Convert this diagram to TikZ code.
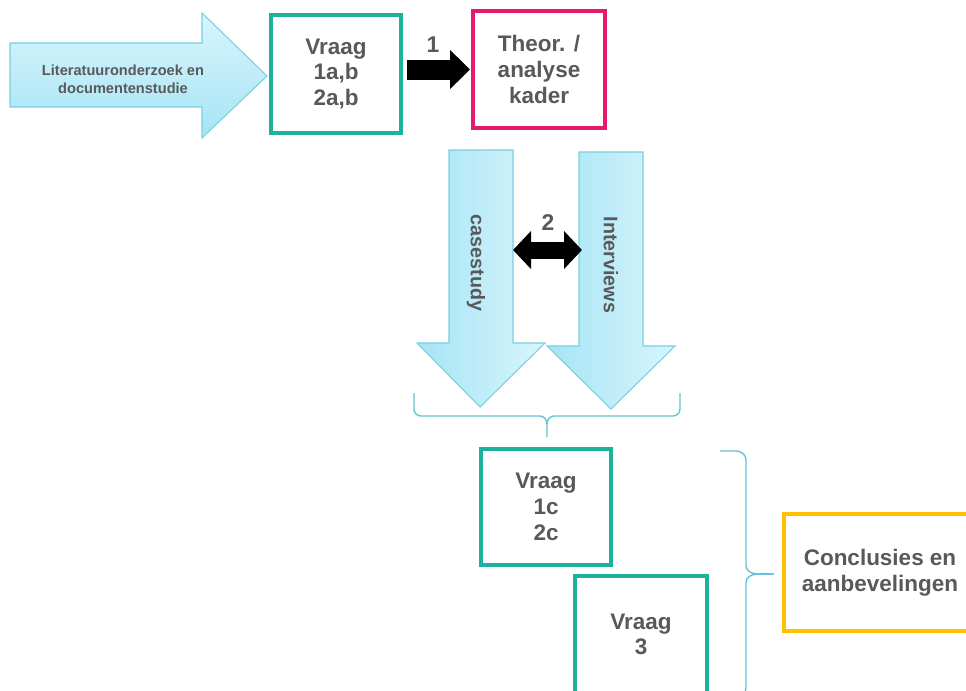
\documentclass[tikz,border=0pt]{standalone}
\usepackage{fontspec}
\setmainfont{Liberation Sans}
\usetikzlibrary{arrows.meta}
\definecolor{vraaggroen}{HTML}{1BB29E}
\definecolor{kaderroze}{HTML}{E6196E}
\definecolor{conclgeel}{HTML}{FFC000}
\definecolor{tekstgrijs}{HTML}{595959}
\definecolor{pijlrand}{HTML}{7ACFE2}
\definecolor{pijllicht}{HTML}{D8F5FC}
\definecolor{pijldonker}{HTML}{A6E4F5}
\definecolor{accoladekleur}{HTML}{64C3D8}
\tikzset{
  kaderbox/.style={draw=vraaggroen, line width=0.08cm, minimum width=2.62cm,
    minimum height=2.36cm, align=center, text=tekstgrijs,
    font=\fontsize{12.8}{14.6}\selectfont\bfseries},
  blokpijl/.style={draw=pijlrand, line width=0.6pt},
  pijltekst/.style={text=tekstgrijs, font=\fontsize{11.2}{13}\selectfont\bfseries},
  zwartpijl/.style={draw=black, line width=0.4cm,
    -{Triangle[length=0.4cm,width=0.76cm]}},
  dubbelpijl/.style={draw=black, line width=0.34cm,
    {Triangle[length=0.36cm,width=0.74cm]}-{Triangle[length=0.36cm,width=0.74cm]}},
  nummer/.style={text=tekstgrijs, font=\fontsize{13}{15}\selectfont\bfseries},
  accolade/.style={draw=accoladekleur, line width=0.8pt}
}
\begin{document}
\begin{tikzpicture}[x=0.02cm, y=-0.02cm]
    \useasboundingbox (0,0) rectangle (966,690);
    \clip (0,0) rectangle (966,690);
    \fill[white] (0,0) rectangle (966,690);
    % literatuur
    \shade[blokpijl, top color=pijllicht, bottom color=pijldonker]
      (10,43) -- (202,43) -- (202,13) -- (267,76) -- (202,138) -- (202,107) -- (10,107) -- cycle;
    \node[text=tekstgrijs, align=center, font=\fontsize{8.3}{10}\selectfont\bfseries] (lit) at (123,79)
      {Literatuuronderzoek en\\documentenstudie};
    \node[kaderbox] (vraagA) at (336,74) {Vraag\\1a,b\\2a,b};
    \node[kaderbox, draw=kaderroze, minimum width=2.64cm, minimum height=2.34cm] (theor) at (539,69.5)
      {Theor. /\\analyse\\kader};
    \draw[zwartpijl, shorten <=0.08cm, shorten >=0.02cm] (vraagA.east |- theor.west) -- (theor.west);
    \node[nummer] (lbl1) at (433,45) {1};
    % casestudy en interviews
    \shade[blokpijl, left color=pijldonker, right color=pijllicht]
      (449,150) -- (513,150) -- (513,343) -- (545,343) -- (480,407) -- (417,343) -- (449,343) -- cycle;
    \shade[blokpijl, left color=pijldonker, right color=pijllicht]
      (579,152) -- (643,152) -- (643,346) -- (675,346) -- (611,409) -- (547,346) -- (579,346) -- cycle;
    \node[pijltekst, rotate=-90] (case) at (476,263) {casestudy};
    \node[pijltekst, rotate=-90] (interv) at (611,265) {Interviews};
    \coordinate (caseR) at (513,250);
    \coordinate (intervL) at (582,250);
    \draw[dubbelpijl] (caseR) -- (intervL);
    \node[nummer] (lbl2) at (548,223) {2};
    \draw[accolade] (414,393) -- (414,409) to[out=-90,in=180] (421,416) -- (540,416)
      to[out=0,in=90] (547,424) -- (547,437);
    \draw[accolade] (547,424) to[out=90,in=180] (554,416) -- (673,416)
      to[out=0,in=-90] (680,409) -- (680,393);
    % vragen en conclusies
    \node[kaderbox, minimum width=2.62cm, minimum height=2.32cm] (vraagC) at (546,507) {Vraag\\1c\\2c};
    \node[kaderbox, minimum width=2.64cm, minimum height=2.34cm] (vraagD) at (641,634.5) {Vraag\\3};
    \draw[accolade] (720,451) -- (736,451) to[out=0,in=90] (746,460) -- (746,565)
      to[out=-90,in=180] (774,574);
    \draw[accolade] (774,574) to[out=180,in=90] (746,583) -- (746,688)
      to[out=-90,in=0] (736,697) -- (720,697);
    \node[kaderbox, draw=conclgeel, minimum width=3.84cm, minimum height=2.34cm] (concl) at (880,572.5)
      {Conclusies en\\aanbevelingen};
  \end{tikzpicture}
\end{document}
